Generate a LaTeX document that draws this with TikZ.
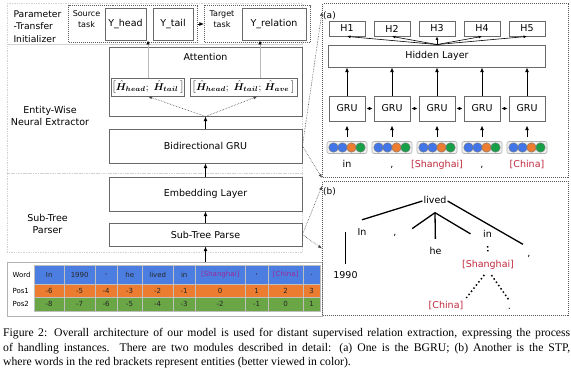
\documentclass[tikz,border=0pt]{standalone}
\usepackage{fontspec}
\setmainfont{DejaVu Sans}
\newfontfamily\capfont{Liberation Serif}
\usepackage{bm}
\usepackage{tikz}
\usetikzlibrary{arrows.meta,positioning,calc}

\definecolor{boxgray}{RGB}{105,105,105}
\definecolor{wordblue}{RGB}{76,126,226}
\definecolor{posorange}{RGB}{236,124,48}
\definecolor{posgreen}{RGB}{106,166,70}
\definecolor{entred}{RGB}{192,42,62}
\definecolor{entpurple}{RGB}{158,40,150}
\definecolor{dotblue}{RGB}{66,118,232}
\definecolor{dotorange}{RGB}{237,125,49}
\definecolor{dotgreen}{RGB}{24,160,72}

\newcommand{\Hsub}[1]{\hat{\bm{H}}_{\bm{#1}}}

\begin{document}
\begin{tikzpicture}[x=1pt, y=-1pt,
  font=\fontsize{9.5}{11.5}\selectfont,
  box/.style={draw=boxgray, line width=0.9pt, fill=white, inner sep=1pt},
  region/.style={draw=gray!35, densely dotted, line width=0.7pt},
  taskbox/.style={draw=gray!75!black, densely dotted, line width=1pt},
  panel/.style={draw=gray!70!black, densely dotted, line width=1pt},
  arrow/.style={-{Latex[length=1.6mm,width=1.4mm]}, line width=1pt},
  thinarrow/.style={draw=gray!55, line width=0.6pt, -{Latex[length=1.4mm,width=1.2mm,color=black]}},
  dotarrow/.style={draw=gray!60!black, densely dotted, line width=0.6pt, -{Latex[length=1.4mm,width=1.1mm]}},
  fanarrow/.style={line width=0.6pt, -{Latex[length=1.2mm,width=1mm]}},
  dblarrow/.style={{Latex[length=1.2mm,width=1.1mm]}-{Latex[length=1.2mm,width=1.1mm]}, line width=1pt, shorten <=1pt, shorten >=1pt},
  cell/.style={draw=gray!50, line width=0.4pt, inner sep=0, font=\fontsize{7}{8}\selectfont, text=black!85},
  tblframe/.style={draw=gray!60, line width=1.2pt},
  grp/.style={draw=gray!60, fill=gray!12, rounded corners=2pt, line width=0.6pt},
  bead/.style={circle, draw=black!55, line width=0.4pt, minimum size=9.5, inner sep=0},
  mathbox/.style={box, inner sep=0.5pt, font=\fontsize{10.3}{12}\selectfont},
  treenode/.style={inner sep=1pt, text height=7pt, text depth=2pt},
  tree/.style={line width=1.3pt},
  dottree/.style={line width=1.5pt, dash pattern=on 1.5pt off 2.5pt},
  ent/.style={text=entred}
]
\useasboundingbox[fill=white] (0,0) rectangle (571,380);

% left part: three stages
\node[region, anchor=north west, minimum width=295, minimum height=41] (initReg) at (7,3) {};
\node[region, anchor=north west, minimum width=295, minimum height=129] (extReg) at (7,44) {};
\node[region, anchor=north west, minimum width=295, minimum height=79] (stpReg) at (7,173) {};

\node[font=\fontsize{9.2}{12.5}\selectfont, align=left, anchor=west] (initLab) at (10,26.5) {Parameter\\-Transfer\\Initializer};
\node[align=center, font=\fontsize{9.5}{12.3}\selectfont] (extLab) at (50,116) {Entity-Wise\\Neural Extractor};
\node[align=center, font=\fontsize{9.5}{12.3}\selectfont] (stpLab) at (47.5,224) {Sub-Tree\\Parser};

\node[taskbox, anchor=north west, minimum width=129, minimum height=37] (srcBox) at (68,5) {};
\node[taskbox, anchor=north west, minimum width=106, minimum height=37] (tgtBox) at (204,5) {};
\node[font=\fontsize{8}{11}\selectfont, align=center] (srcLab) at (86.5,19.5) {Source\\task};
\node[font=\fontsize{8}{11}\selectfont, align=center] (tgtLab) at (222,19.5) {Target\\task};
\node[box, minimum width=41, minimum height=32] (yhead) at (125.5,24) {Y\_head};
\node[box, minimum width=40, minimum height=32] (ytail) at (173,24) {Y\_tail};
\node[box, minimum width=64, minimum height=32] (yrel) at (274,24) {Y\_relation};

\node[box, minimum width=193, minimum height=69] (attn) at (205.5,81.5) {};
\node (attnLab) at (205.5,57) {Attention};
\node[mathbox, minimum width=72, minimum height=18] (hcat1) at (148,87) {$\bigl[\Hsub{head};\ \Hsub{tail}\,\bigr]$};
\node[mathbox, minimum width=107, minimum height=18] (hcat2) at (243.5,87) {$\bigl[\Hsub{head};\ \Hsub{tail};\,\Hsub{ave}\,\bigr]$};

\node[box, minimum width=193, minimum height=34] (bigru) at (205.5,146) {Bidirectional GRU};
\node[box, minimum width=193, minimum height=34] (emb) at (205.5,194) {Embedding Layer};
\node[box, minimum width=193, minimum height=23] (stpBox) at (205.5,234.5) {Sub-Tree Parse};

% input table
\node[tblframe, anchor=north west, minimum width=315, minimum height=54] (tbl) at (7,262) {};
\node[anchor=west, font=\fontsize{7}{8}\selectfont] (lblWord) at (9,274.5) {Word};
\node[anchor=west, font=\fontsize{7}{8}\selectfont] (lblPos1) at (9,290.5) {Pos1};
\node[anchor=west, font=\fontsize{7}{8}\selectfont] (lblPos2) at (9,304) {Pos2};
\foreach \xa/\xb/\wrd/\pone/\ptwo [count=\i] in {34/64/In/-6/-8, 64/95/1990/-5/-7, 95/117/{,}/-4/-6,
    117/142/he/-3/-5, 142/173/lived/-2/-4, 173/195/in/-1/-3,
    195/245/\textcolor{entpurple}{[Shanghai]}/0/-2, 245/268/{,}/1/-1,
    268/303/\textcolor{entpurple}{[China]}/2/0, 303/320/./3/1} {
  \node[cell, fill=wordblue, anchor=north west, minimum width=\xb-\xa, minimum height=19] (w\i) at (\xa,265) {\wrd};
  \node[cell, fill=posorange, anchor=north west, minimum width=\xb-\xa, minimum height=13] (p\i) at (\xa,284) {\pone};
  \node[cell, fill=posgreen, anchor=north west, minimum width=\xb-\xa, minimum height=14] (q\i) at (\xa,297) {\ptwo};
}

\draw[arrow] (srcBox.east) -- (tgtBox.west);
\draw[arrow] (bigru) -- (attn);
\draw[arrow] (emb) -- (bigru);
\draw[arrow] (stpBox) -- (emb);
\draw[arrow] (tbl.north -| stpBox) -- (stpBox.south);
\draw[dotarrow] (attn.south) -- (hcat1.south);
\draw[dotarrow] (attn.south) -- ([xshift=14pt]hcat2.south);
\draw[thinarrow] (hcat1.north) -- (hcat1.north |- yhead.south);
\draw[thinarrow] ([xshift=16.5pt]hcat2.north) -- ([xshift=16.5pt]hcat2.north |- yrel.south);

% (a) BGRU
\node[panel, anchor=north west, minimum width=246, minimum height=174] (panelA) at (322,3) {};
\node[font=\fontsize{9}{10}\selectfont, inner sep=0] (labA) at (329.5,15.5) {(a)};
\node[box, minimum width=217, minimum height=22] (hidden) at (437,56) {Hidden Layer};
\foreach \cx [count=\i] in {347,392,437,482,527} {
  \node[box, minimum width=36, minimum height=15] (h\i) at (\cx,28.5) {H\i};
  \node[box, minimum width=36, minimum height=25] (gru\i) at (\cx,108.5) {GRU};
  \node[grp, minimum width=40, minimum height=12] (grp\i) at (\cx,147.5) {};
  \foreach \k/\cc in {1/dotblue,2/dotblue,3/dotorange,4/dotgreen}
    \node[bead, fill=\cc] (bead\i\k) at (\cx-22.5+9*\k,147.5) {};
  \draw[fanarrow] (hidden.north) -- (h\i.south);
  \draw[arrow] (gru\i) -- (gru\i |- hidden.south);
  \draw[arrow, shorten <=4pt, shorten >=4pt] (grp\i) -- (gru\i);
}
\foreach \i/\j in {1/2,2/3,3/4,4/5}
  \draw[dblarrow] (gru\i) -- (gru\j);
\node[treenode] (wa1) at (347,165) {in};
\node[treenode] (wa2) at (392,165) {,};
\node[treenode, ent] (wa3) at (437,165) {[Shanghai]};
\node[treenode] (wa4) at (482,165) {,};
\node[treenode, ent] (wa5) at (527,165) {[China]};

% (b) sub-tree
\node[panel, anchor=north west, minimum width=246, minimum height=134] (panelB) at (322,181) {};
\node[font=\fontsize{9}{10}\selectfont, inner sep=0] (labB) at (329.5,191.5) {(b)};
\node[treenode] (tLived) at (435,201) {lived};
\node[treenode] (tIn) at (362,232.5) {In};
\node[treenode] (tComL) at (395,233) {,};
\node[treenode] (tHe) at (435.5,252) {he};
\node[treenode] (tInB) at (487.5,235) {in};
\node[treenode, ent] (tSh) at (488,264.5) {[Shanghai]};
\node[treenode] (tComR) at (529,253.5) {,};
\node[treenode] (t1990) at (345.5,276) {1990};
\node[treenode, ent] (tCh) at (446,306) {[China]};
\node[treenode] (tDot) at (509.5,306.5) {.};
\coordinate (fork) at ([yshift=-6pt]tLived.south);

\draw[tree] (tLived.west) -- ([yshift=7pt]tIn.north);
\draw[tree, shorten >=7pt] (tLived.east) -- (tComR.north);
\draw[tree, shorten >=17.6pt] (fork) -- (tComL.south east);
\draw[tree, shorten >=7.5pt] (fork) -- (tHe.north);
\draw[tree, shorten >=13.3pt] (fork) -- (tInB.south west);
\draw[tree, shorten <=6.5pt, shorten >=5pt] (t1990.north) -- (t1990.north |- tIn.north);
\draw[dottree, shorten <=5.5pt, shorten >=7.5pt] (tInB.south) -- (tSh.north);
\draw[dottree, shorten <=6pt, shorten >=3pt] (tSh.south) -- (tCh.north east);
\draw[dottree, shorten <=6pt] (tSh.south) -- (tDot.north);

% links to the detail panels
\draw[dotarrow] (bigru.east) -- ([yshift=-9pt]panelA.north west);
\draw[dotarrow] (bigru.east) -- (panelA.south west);
\draw[dotarrow] (stpBox.east) -- ([yshift=-5pt]panelB.north west);
\draw[dotarrow] (stpBox.east) -- (panelB.west);

% caption
\node[anchor=north west, inner sep=0, text width=567pt, align=justify,
  font=\capfont\fontsize{11.7}{14.3}\selectfont] (caption) at (3,328.5)
  {Figure 2: Overall architecture of our model is used for distant supervised relation extraction, expressing the process\linebreak
   of handling instances. There are two modules described in detail: (a) One is the BGRU; (b) Another is the STP,\linebreak
   where words in the red brackets represent entities (better viewed in color).};
\end{tikzpicture}
\end{document}
